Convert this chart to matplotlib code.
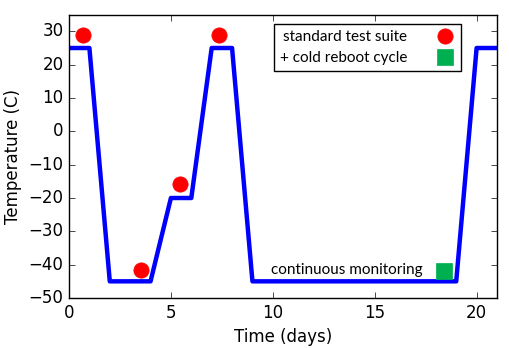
import matplotlib
matplotlib.use("Agg")
import matplotlib.pyplot as plt
from matplotlib.lines import Line2D

plt.style.use("classic")

# temperature profile (days, deg C)
profile_days = [0, 1, 2, 4, 5, 6, 7, 8, 9, 19, 20, 21]
profile_temp = [25, 25, -45, -45, -20, -20, 25, 25, -45, -45, 25, 25]

# test points
suite_days = [0.7, 3.52, 5.45, 7.34]
suite_temp = [28.8, -41.6, -15.9, 28.8]
reboot_days = [18.42]
reboot_temp = [-41.8]

legend_labels = ["standard test suite", "+ cold reboot cycle"]
note_text = "continuous monitoring"

fig = plt.figure(figsize=(5.09, 3.48), dpi=100, facecolor="white")
ax = fig.add_axes([0.1356, 0.1437, 0.8408, 0.8141])

ax.plot(profile_days, profile_temp, color="#0000ff", linewidth=3.2)
ax.plot(suite_days, suite_temp, "o", color="#ff0000", markeredgecolor="#ff0000",
        markersize=11)
ax.plot(reboot_days, reboot_temp, "s", color="#00b050", markeredgecolor="#00b050",
        markersize=11)

ax.set_xlim(0, 21)
ax.set_ylim(-50, 35)
ax.set_yticks(range(-50, 31, 10))
ax.set_xticks([0, 5, 10, 15, 20])
ax.set_xlabel("Time (days)")
ax.set_ylabel("Temperature (C)")

ax.text(17.37, -41.6, note_text, ha="right", va="center",
        family="Lato", fontsize=11)

handles = [
    Line2D([], [], linestyle="none", marker="o", color="#ff0000",
           markeredgecolor="#ff0000", markersize=11),
    Line2D([], [], linestyle="none", marker="s", color="#00b050",
           markeredgecolor="#00b050", markersize=11),
]
ax.legend(handles, legend_labels, loc="upper right", numpoints=1,
          markerfirst=False, fancybox=False, prop={"family": "Lato", "size": 11},
          bbox_to_anchor=(0.9167, 0.966), borderaxespad=0,
          handlelength=1.33, handletextpad=1.8, borderpad=0.4,
          labelspacing=0.45)

fig.savefig("out.png", dpi=100, facecolor="white")
